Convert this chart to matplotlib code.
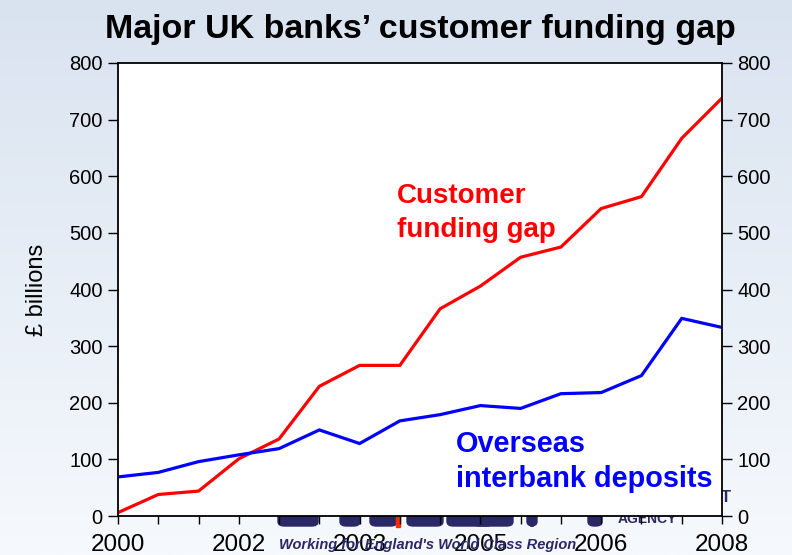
"""
UK banks' customer funding gap against overseas interbank deposits,
drawn as two lines on a boxed axis with labels on both sides.
"""
import numpy as np
import matplotlib.pyplot as plt
from matplotlib.patches import FancyBboxPatch

plt.rcParams['font.family'] = ['Liberation Sans', 'DejaVu Sans']

# Data (£ billions), half-yearly points
funding_gap = [6, 38, 44, 101, 136, 229, 266, 266, 366, 406, 457, 475, 543, 564, 667, 738]
interbank = [69, 77, 96, 108, 119, 152, 128, 168, 179, 195, 190, 216, 218, 248, 349, 333]
year_labels = ['2000', '', '', '2002', '', '', '2003', '', '', '2005', '', '', '2006', '', '', '2008']

W, H = 792, 555
fig = plt.figure(figsize=(W / 100, H / 100), dpi=100)

# soft blue slide background
bg = fig.add_axes([0, 0, 1, 1], zorder=-10)
grad = np.linspace(0, 1, 256).reshape(-1, 1)
top = np.array([217, 227, 240]) / 255
bot = np.array([246, 249, 253]) / 255
img = top + (bot - top) * grad[..., None]
bg.imshow(img, aspect='auto', extent=[0, 1, 0, 1])
bg.axis('off')

# logo behind the plot area (mostly hidden by it)
navy = '#2b2866'
logo_bits = [(278, 40), (340, 20), (370, 27), (407, 36), (447, 46), (473, 40), (527, 10), (588, 14)]
for x0, w in logo_bits:
    fig.patches.append(FancyBboxPatch((x0 / W, 1 - 526 / H), w / W, 20 / H,
                                      boxstyle='round,pad=0,rounding_size=0.008',
                                      transform=fig.transFigure, color=navy, zorder=-1))
fig.patches.append(FancyBboxPatch((396 / W, 1 - 527 / H), 4 / W, 20 / H,
                                  boxstyle='square,pad=0', transform=fig.transFigure,
                                  color='#ff2a00', zorder=-1))
fig.text(647 / W, 1 - 519 / H, 'AGENCY', ha='center', va='center', color=navy,
         fontsize=10, fontweight='bold', zorder=-1)
fig.text(726 / W, 1 - 497 / H, 'T', ha='center', va='center', color=navy,
         fontsize=12, fontweight='bold', zorder=-1)
fig.text(428 / W, 1 - 545 / H, "Working for England's World Class Region", ha='center',
         va='center', color=navy, fontsize=10.5, fontweight='bold', style='italic', zorder=1)

ax = fig.add_axes([118 / W, 1 - 516 / H, 604 / W, 453 / H])
x = np.arange(len(funding_gap))
ax.plot(x, funding_gap, color='#ff0000', lw=2.3, solid_joinstyle='miter')
ax.plot(x, interbank, color='#0000ff', lw=2.3, solid_joinstyle='miter')

ax.set_xlim(0, len(x) - 1)
ax.set_ylim(0, 800)
ax.set_yticks(range(0, 801, 100))
ax.set_xticks(x)
ax.set_xticklabels(year_labels)
ax.tick_params(axis='y', direction='out', length=7, width=1, labelsize=14.5,
               right=True, labelright=True, pad=4)
ax.tick_params(axis='x', direction='out', length=6, width=1, labelsize=17.5, pad=7)
for s in ax.spines.values():
    s.set_linewidth(1.3)

ax.set_ylabel('£ billions', fontsize=17, labelpad=15)

ax.text(6.93, 588, 'Customer\nfunding gap', color='#ff0000', fontsize=20,
        fontweight='bold', va='top', ha='left', linespacing=1.38)
ax.text(8.4, 152, 'Overseas\ninterbank deposits', color='#0000ff', fontsize=20.8,
        fontweight='bold', va='top', ha='left', linespacing=1.32)

fig.text(420 / W, 1 - 38 / H, 'Major UK banks’ customer funding gap', ha='center',
         va='baseline', fontsize=24.5, fontweight='bold')

fig.savefig('out.png', dpi=100)
